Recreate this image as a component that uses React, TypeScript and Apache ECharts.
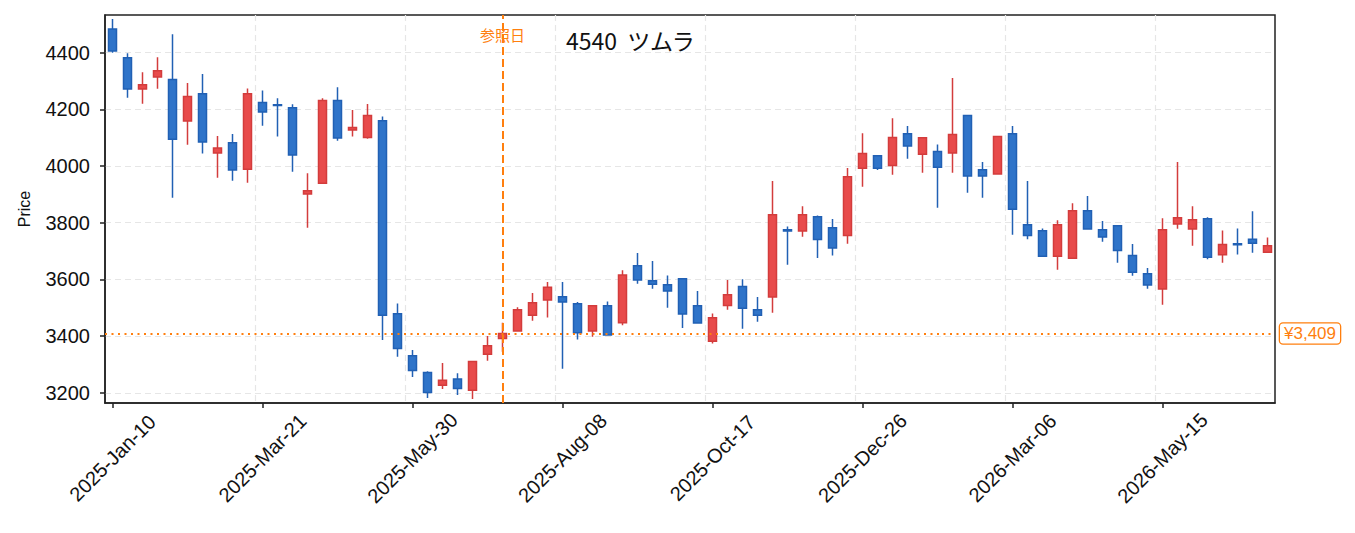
import React, { useEffect, useRef } from "react";
import * as echarts from "echarts";

const START_DATE = "2025-01-10";
const WEEK_COUNT = 78;
const MONTHS = ["Jan", "Feb", "Mar", "Apr", "May", "Jun", "Jul", "Aug", "Sep", "Oct", "Nov", "Dec"];

const opens = [
  4484, 4382, 4272, 4314, 4305, 4159, 4255, 4046, 4082, 3989,
  4224, 4216, 4206, 3901, 3939, 4231, 4127, 4101, 4160, 3479,
  3331, 3272, 3227, 3249, 3209, 3336, 3392, 3418, 3474, 3527,
  3539, 3514, 3418, 3507, 3447, 3648, 3595, 3581, 3602, 3507,
  3382, 3508, 3575, 3493, 3538, 3775, 3771, 3821, 3782, 3755,
  3992, 4036, 4002, 4114, 4042, 4051, 4046, 4178, 3987, 3972,
  4114, 3793, 3772, 3682, 3675, 3842, 3775, 3789, 3684, 3620,
  3566, 3796, 3778, 3814, 3687, 3726, 3742, 3696,
];
const closes = [
  4406, 4272, 4287, 4336, 4095, 4245, 4085, 4064, 3986, 4255,
  4191, 4214, 4039, 3913, 4231, 4099, 4136, 4178, 3474, 3356,
  3279, 3201, 3244, 3215, 3310, 3366, 3409, 3493, 3518, 3572,
  3520, 3412, 3507, 3404, 3616, 3598, 3583, 3559, 3478, 3446,
  3465, 3546, 3498, 3474, 3828, 3771, 3828, 3741, 3711, 3962,
  4044, 3992, 4101, 4071, 4100, 3996, 4111, 3965, 3965, 4104,
  3848, 3755, 3682, 3793, 3842, 3778, 3750, 3702, 3625, 3580,
  3775, 3818, 3811, 3678, 3723, 3722, 3728, 3719,
];
const lows = [
  4400, 4241, 4220, 4273, 3888, 4075, 4044, 3959, 3948, 3941,
  4142, 4104, 3980, 3782, 3939, 4089, 4104, 4096, 3386, 3327,
  3256, 3182, 3213, 3192, 3178, 3313, 3345, 3418, 3454, 3466,
  3285, 3388, 3398, 3404, 3438, 3585, 3567, 3500, 3429, 3446,
  3374, 3493, 3426, 3451, 3482, 3652, 3751, 3676, 3684, 3726,
  3927, 3986, 3969, 4026, 3976, 3853, 3976, 3906, 3888, 3972,
  3758, 3742, 3682, 3634, 3675, 3778, 3733, 3659, 3613, 3567,
  3511, 3779, 3719, 3671, 3659, 3688, 3694, 3696,
];
const highs = [
  4519, 4398, 4331, 4384, 4465, 4293, 4325, 4106, 4113, 4274,
  4267, 4239, 4218, 3975, 4239, 4278, 4198, 4219, 4175, 3515,
  3351, 3276, 3305, 3269, 3310, 3400, 3447, 3502, 3552, 3591,
  3591, 3520, 3507, 3522, 3632, 3693, 3665, 3614, 3602, 3559,
  3480, 3598, 3601, 3538, 3947, 3787, 3858, 3826, 3813, 3993,
  4116, 4036, 4169, 4141, 4100, 4076, 4311, 4178, 4014, 4104,
  4141, 3947, 3780, 3809, 3869, 3894, 3806, 3789, 3725, 3640,
  3816, 4014, 3858, 3819, 3773, 3780, 3841, 3748,
];

const REF_INDEX = 26;
const REF_PRICE = 3409;
const REF_PRICE_LABEL = "¥3,409";
const TITLE = "4540  ツムラ";
const REF_LABEL = "参照日";
const Y_MIN = 3164;
const Y_MAX = 4533;

const ORANGE = "#ff7f0e";
const UP_FILL = "#e84b4b";
const UP_EDGE = "#d33c3c";
const DOWN_FILL = "#2f74c9";
const DOWN_EDGE = "#2160b4";
const FONT = "'Liberation Sans', 'Noto Sans CJK JP', sans-serif";
const CJK_FONT = "'Noto Sans CJK JP', 'Noto Sans', sans-serif";

function buildCategories(): string[] {
  const out: string[] = [];
  const base = new Date(START_DATE + "T00:00:00Z");
  for (let i = 0; i < WEEK_COUNT; i++) {
    const d = new Date(base.getTime() + i * 7 * 86400000);
    const dd = String(d.getUTCDate()).padStart(2, "0");
    out.push(`${d.getUTCFullYear()}-${MONTHS[d.getUTCMonth()]}-${dd}`);
  }
  return out;
}

export default function App() {
  const ref = useRef<HTMLDivElement>(null);

  useEffect(() => {
    document.body.style.margin = "0";
    if (!ref.current) return;
    const chart = echarts.init(ref.current, undefined, { renderer: "svg" });
    const categories = buildCategories();
    const data = opens.map((o, i) => [o, closes[i], lows[i], highs[i]]);

    chart.setOption({
      animation: false,
      backgroundColor: "#ffffff",
      textStyle: { fontFamily: FONT },
      grid: {
        left: 105,
        right: 80,
        top: 15,
        bottom: 130,
        show: true,
        borderColor: "#222222",
        borderWidth: 1.5,
        backgroundColor: "transparent",
        containLabel: false,
        outerBoundsMode: "none",
      },
      xAxis: {
        type: "category",
        data: categories,
        boundaryGap: true,
        axisLine: { show: true, lineStyle: { color: "#222222", width: 1.5 } },
        axisTick: {
          show: true,
          interval: 9,
          alignWithLabel: true,
          length: 5,
          lineStyle: { color: "#222222", width: 1.5 },
        },
        axisLabel: {
          interval: 9,
          rotate: 45,
          align: "center",
          verticalAlign: "middle",
          margin: 55,
          fontSize: 20,
          color: "#111111",
          fontFamily: FONT,
        },
        splitLine: {
          show: true,
          interval: 9,
          showMinLine: false,
          showMaxLine: false,
          lineStyle: { color: "#e6e6e6", type: [6, 4], width: 1.2 },
        },
      },
      yAxis: {
        type: "value",
        min: Y_MIN,
        max: Y_MAX,
        splitNumber: 7,
        scale: true,
        name: "Price",
        nameLocation: "middle",
        nameGap: 73,
        nameRotate: 90,
        nameTextStyle: { fontSize: 16, color: "#111111", fontFamily: FONT },
        axisLine: { show: true, lineStyle: { color: "#222222", width: 1.5 } },
        axisTick: {
          show: true,
          length: 5,
          lineStyle: { color: "#222222", width: 1.5 },
        },
        axisLabel: {
          margin: 15,
          fontSize: 20,
          color: "#111111",
          fontFamily: FONT,
          showMinLabel: false,
          showMaxLabel: false,
          formatter: (v: number) => (Math.round(v) % 200 === 0 ? String(Math.round(v)) : ""),
        },
        splitLine: {
          show: true,
          showMinLine: false,
          showMaxLine: false,
          lineStyle: { color: "#e6e6e6", type: [6, 4], width: 1.2 },
        },
      },
      series: [
        {
          type: "candlestick",
          data,
          barWidth: "58%",
          itemStyle: {
            color: UP_FILL,
            color0: DOWN_FILL,
            borderColor: UP_EDGE,
            borderColor0: DOWN_EDGE,
            borderWidth: 1.5,
          },
          markLine: {
            silent: true,
            symbol: ["none", "none"],
            data: [
              {
                yAxis: REF_PRICE,
                lineStyle: { color: ORANGE, type: [2, 4.5], width: 2 },
                label: {
                  show: true,
                  position: "end",
                  formatter: REF_PRICE_LABEL,
                  color: ORANGE,
                  fontSize: 17,
                  fontFamily: FONT,
                  backgroundColor: "#ffffff",
                  borderColor: ORANGE,
                  borderWidth: 1.3,
                  borderRadius: 3,
                  padding: [2, 4, 1, 4],
                  distance: 5,
                },
              },
              {
                xAxis: categories[REF_INDEX],
                lineStyle: { color: ORANGE, type: [8, 4], width: 2 },
                label: { show: false },
              },
            ],
          },
        },
      ],
    });

    const refPx = chart.convertToPixel({ xAxisIndex: 0 }, categories[REF_INDEX]) as number;
    chart.setOption({
      graphic: [
        {
          type: "text",
          x: refPx,
          y: 34,
          z: 100,
          style: {
            text: REF_LABEL,
            fill: ORANGE,
            fontSize: 15,
            fontFamily: CJK_FONT,
            align: "center",
            verticalAlign: "middle",
          },
        },
        {
          type: "text",
          x: 566,
          y: 40,
          z: 100,
          style: {
            text: TITLE,
            fill: "#111111",
            fontSize: 23,
            fontFamily: CJK_FONT,
            align: "left",
            verticalAlign: "middle",
          },
        },
      ],
    });

    return () => chart.dispose();
  }, []);

  return <div ref={ref} style={{ width: 1355, height: 533 }} />;
}
